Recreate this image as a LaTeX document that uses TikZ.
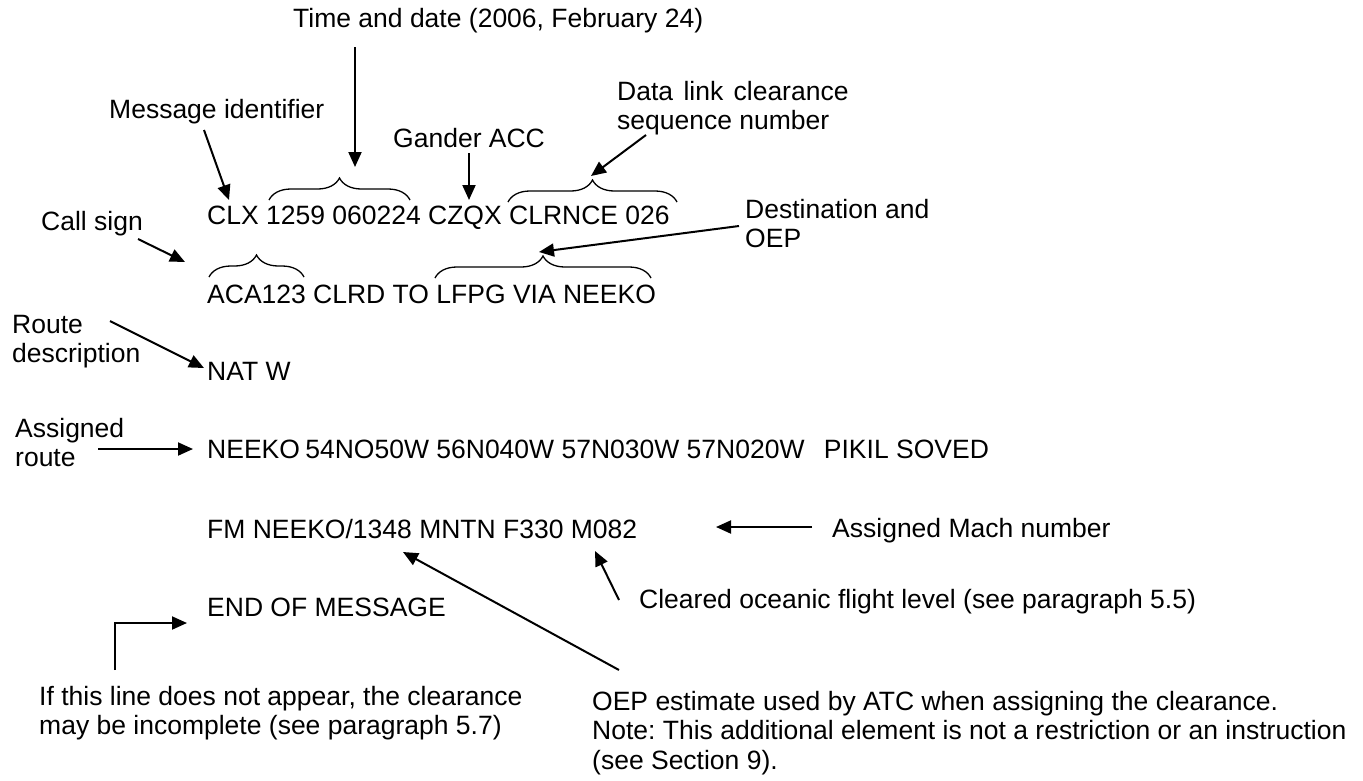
\documentclass[tikz,border=0pt]{standalone}
\usepackage{fontspec}
\setmainfont{Liberation Sans}
\usetikzlibrary{arrows.meta,decorations.pathreplacing}
\frenchspacing
\begin{document}
\begin{tikzpicture}[x=1pt,y=-1pt,
 txt/.style={anchor=base west,inner sep=0pt,font=\fontsize{26.5}{29.5}\selectfont},
 arr/.style={line width=2pt,-{Triangle[length=15pt,width=13pt]}},
 brc/.style={line width=1.3pt,decorate,decoration={brace,amplitude=22pt}}]
\useasboundingbox (0,0) rectangle (1363,780);
% message lines
\node[txt] (l1) at (207,224) {CLX 1259 060224 CZQX CLRNCE 026};
\node[txt] (l2) at (207,303) {ACA123 CLRD TO LFPG VIA NEEKO};
\node[txt] (l3) at (207,380) {NAT W};
\node[txt] (l4) at (207,458) {NEEKO\hspace{-2pt} 54NO50W 56N040W 57N030W 57N020W\hspace{12pt} PIKIL SOVED};
\node[txt] (l5) at (207,538) {FM NEEKO/1348 MNTN F330 M082};
\node[txt] (l6) at (207,616) {END OF MESSAGE};
% labels
\node[txt] (time) at (293,27.5) {Time and date (2006, February 24)};
\node[txt] (msgid) at (109,118) {Message identifier};
\node[txt] (gander) at (393,147) {Gander ACC};
\node[txt] (dlink) at (617,100) {\begin{tabular}[t]{@{}l@{}}Data\hspace{3pt} link\hspace{3pt} clearance\\sequence number\end{tabular}};
\node[txt] (call) at (41,230) {Call sign};
\node[txt] (dest) at (745,218) {\begin{tabular}[t]{@{}l@{}}Destination and\\OEP\end{tabular}};
\node[txt] (route) at (12,333) {\begin{tabular}[t]{@{}l@{}}Route\\description\end{tabular}};
\node[txt] (asgn) at (15,437) {\begin{tabular}[t]{@{}l@{}}Assigned\\route\end{tabular}};
\node[txt] (mach) at (832,537) {Assigned Mach number};
\node[txt] (clrd) at (639,608) {Cleared oceanic flight level (see paragraph 5.5)};
\node[txt] (ifline) at (39,705) {\begin{tabular}[t]{@{}l@{}}If this line does not appear, the clearance\\may be incomplete (see paragraph 5.7)\end{tabular}};
\node[txt] (oep) at (592,710) {\begin{tabular}[t]{@{}l@{}}OEP estimate used by ATC when assigning the clearance.\\Note: This additional element is not a restriction or an instruction\\(see Section 9).\end{tabular}};
% braces
\draw[brc] (269,200) coordinate (b1a) -- (410,200) coordinate (b1b);
\draw[brc] (508,202) coordinate (b2a) -- (677,202) coordinate (b2b);
\draw[brc] (209,277) coordinate (b3a) -- (304,277) coordinate (b3b);
\draw[brc] (435,278) coordinate (b4a) -- (651,278) coordinate (b4b);
% arrow end points
\coordinate (timeS) at (355,47);   \coordinate (timeT) at (355,167);
\coordinate (msgS) at (204,130);   \coordinate (msgT) at (229,200);
\coordinate (ganS) at (469,153);   \coordinate (ganT) at (469,200);
\coordinate (seqS) at (646,135);   \coordinate (seqT) at (591,176);
\coordinate (callS) at (138,239);  \coordinate (callT) at (185,262);
\coordinate (destS) at (739,226);  \coordinate (destT) at (539,252);
\coordinate (routeS) at (110,321); \coordinate (routeT) at (204,368);
\coordinate (asgS) at (98,449);    \coordinate (asgT) at (193,449);
\coordinate (machS) at (812,527);  \coordinate (machT) at (716,527);
\coordinate (clrS) at (619,600);   \coordinate (clrT) at (595,551);
\coordinate (oepS) at (619,670);   \coordinate (oepT) at (403,552);
\coordinate (endS) at (115,670);   \coordinate (endT) at (187,623);
% arrows
\draw[arr] (timeS) -- (timeT);
\draw[arr] (msgS) -- (msgT);
\draw[arr] (ganS) -- (ganT);
\draw[arr] (seqS) -- (seqT);
\draw[arr] (callS) -- (callT);
\draw[arr] (destS) -- (destT);
\draw[arr] (routeS) -- (routeT);
\draw[arr] (asgS) -- (asgT);
\draw[arr] (machS) -- (machT);
\draw[arr] (clrS) -- (clrT);
\draw[arr] (oepS) -- (oepT);
\draw[arr] (endS) |- (endT);
\end{tikzpicture}
\end{document}
